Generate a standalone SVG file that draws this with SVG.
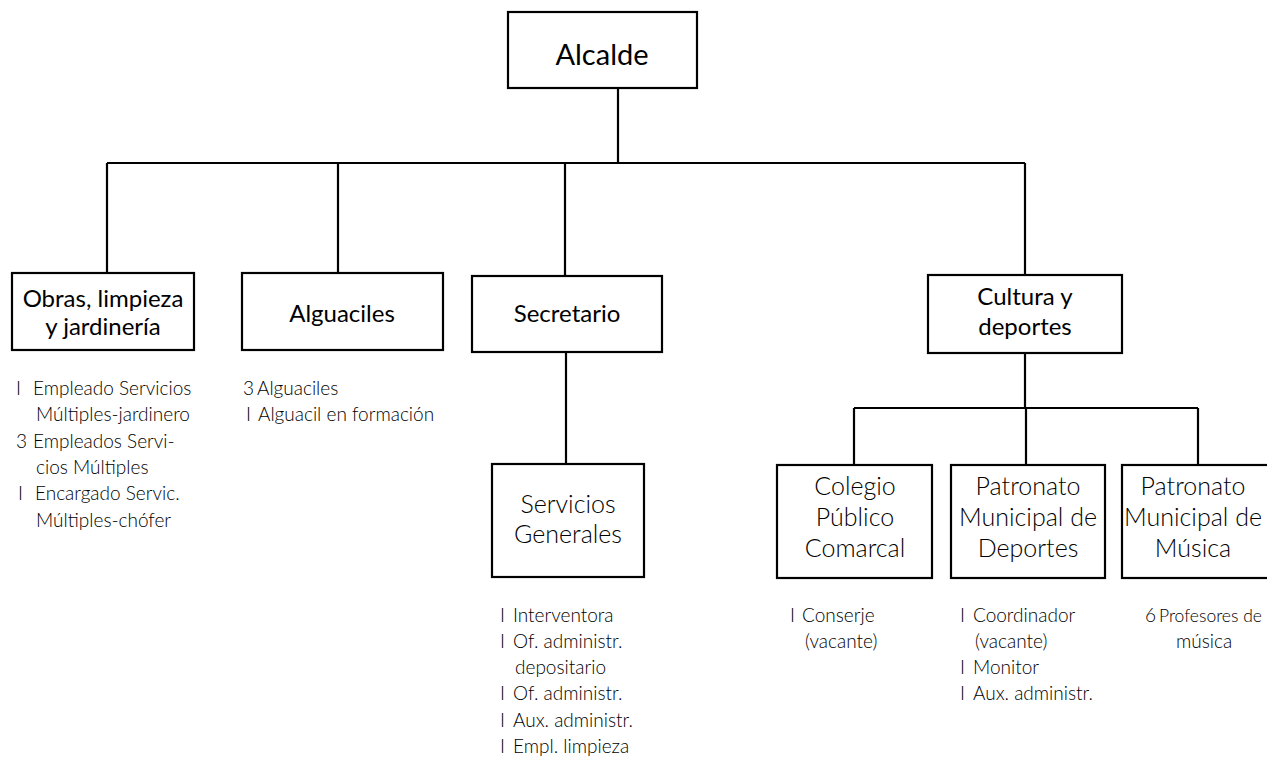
<svg xmlns="http://www.w3.org/2000/svg" width="1267" height="760" viewBox="0 0 1267 760">
<style>
.box{fill:#fff;stroke:#000;stroke-width:2.2}
.ln{fill:none;stroke:#000;stroke-width:2.2}
text{font-family:Lato,"Open Sans","Liberation Sans",sans-serif;fill:#000}
.t1{font-size:29px;text-anchor:middle}
.t2{font-size:24px;text-anchor:middle}
.t3{font-size:25px;text-anchor:middle;font-weight:300}
.l{font-size:19px;font-weight:300}
.ls{font-size:17.5px;font-weight:300}
</style>
<rect width="1267" height="760" fill="#fff"/>
<g id="connectors">
<path class="ln" d="M618 88V163M107 163H1025M107 163V273M338 163V273M565 163V276M1025 163V275"/>
<path class="ln" d="M566 352V464"/>
<path class="ln" d="M1025 353V408M854 408H1198M854 408V465M1026 408V465M1198 408V465"/>
</g>
<g id="alcalde">
<rect class="box" x="508" y="12" width="189" height="76"/>
<text class="t1" x="602" y="65">Alcalde</text>
</g>
<g id="obras">
<rect class="box" x="12" y="273" width="182" height="77"/>
<text class="t2" x="103" y="307">Obras, limpieza</text>
<text class="t2" x="103" y="335">y jardinería</text>
</g>
<g id="alguaciles">
<rect class="box" x="242" y="273" width="201" height="77"/>
<text class="t2" x="342" y="322">Alguaciles</text>
</g>
<g id="secretario">
<rect class="box" x="472" y="276" width="190" height="76"/>
<text class="t2" x="567" y="322">Secretario</text>
</g>
<g id="cultura">
<rect class="box" x="928" y="275" width="194" height="78"/>
<text class="t2" x="1025" y="305">Cultura y</text>
<text class="t2" x="1025" y="335">deportes</text>
</g>
<g id="servicios">
<rect class="box" x="492" y="464" width="152" height="113"/>
<text class="t3" x="568" y="513">Servicios</text>
<text class="t3" x="568" y="543">Generales</text>
</g>
<g id="colegio">
<rect class="box" x="777" y="465" width="155" height="113"/>
<text class="t3" x="855" y="495">Colegio</text>
<text class="t3" x="855" y="526">Público</text>
<text class="t3" x="855" y="557">Comarcal</text>
</g>
<g id="patronato-deportes">
<rect class="box" x="951" y="465" width="154" height="113"/>
<text class="t3" x="1028" y="495">Patronato</text>
<text class="t3" x="1028" y="526">Municipal de</text>
<text class="t3" x="1028" y="557">Deportes</text>
</g>
<g id="patronato-musica">
<rect class="box" x="1122" y="465" width="150" height="113"/>
<text class="t3" x="1193" y="495">Patronato</text>
<text class="t3" x="1193" y="526" textLength="138" lengthAdjust="spacingAndGlyphs">Municipal de</text>
<text class="t3" x="1193" y="557">Música</text>
</g>
<g id="lista-obras">
<text class="l" x="16" y="395">I</text><text class="l" x="33" y="395">Empleado Servicios</text>
<text class="l" x="36" y="421">Múltiples-jardinero</text>
<text class="l" x="16" y="448">3</text><text class="l" x="33" y="448">Empleados Servi-</text>
<text class="l" x="36" y="474">cios Múltiples</text>
<text class="l" x="18" y="500">I</text><text class="l" x="35" y="500">Encargado Servic.</text>
<text class="l" x="36" y="527">Múltiples-chófer</text>
</g>
<g id="lista-alguaciles">
<text class="l" x="243" y="395">3</text><text class="l" x="257" y="395">Alguaciles</text>
<text class="l" x="246" y="421">I</text><text class="l" x="258" y="421">Alguacil en formación</text>
</g>
<g id="lista-servicios">
<text class="l" x="500" y="622">I</text><text class="l" x="513" y="622">Interventora</text>
<text class="l" x="500" y="648">I</text><text class="l" x="513" y="648">Of. administr.</text>
<text class="l" x="515" y="674">depositario</text>
<text class="l" x="500" y="700">I</text><text class="l" x="513" y="700">Of. administr.</text>
<text class="l" x="500" y="727">I</text><text class="l" x="513" y="727">Aux. administr.</text>
<text class="l" x="500" y="753">I</text><text class="l" x="513" y="753">Empl. limpieza</text>
</g>
<g id="lista-colegio">
<text class="l" x="790" y="622">I</text><text class="l" x="802" y="622">Conserje</text>
<text class="l" x="805" y="648">(vacante)</text>
</g>
<g id="lista-deportes">
<text class="l" x="960" y="622">I</text><text class="l" x="973" y="622">Coordinador</text>
<text class="l" x="975" y="648">(vacante)</text>
<text class="l" x="960" y="674">I</text><text class="l" x="973" y="674">Monitor</text>
<text class="l" x="960" y="700">I</text><text class="l" x="973" y="700">Aux. administr.</text>
</g>
<g id="lista-musica">
<text class="l" x="1145" y="622">6</text><text class="ls" x="1159" y="622">Profesores de</text>
<text class="l" x="1176" y="648">música</text>
</g>
</svg>
